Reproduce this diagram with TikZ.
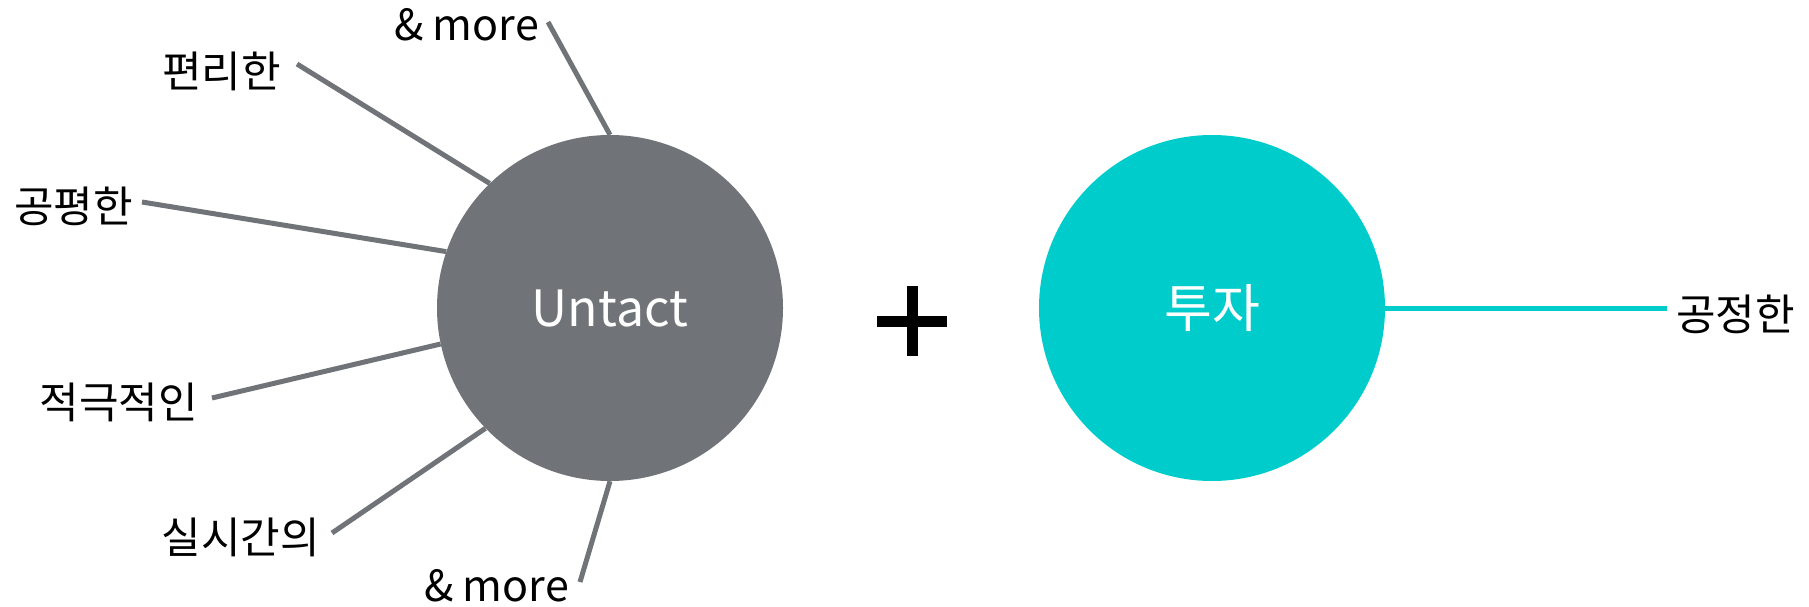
\documentclass[tikz,border=0pt]{standalone}
\usepackage{fontspec}
\setmainfont{Noto Sans CJK KR}
\definecolor{ugray}{HTML}{707377}
\definecolor{uteal}{HTML}{00CCCC}
\begin{document}
\begin{tikzpicture}[x=1pt,y=-1pt,
  lab/.style={font=\fontsize{43}{47}\selectfont, inner sep=0pt, text=black},
  bigtxt/.style={font=\fontsize{50}{54}\selectfont, text=white},
  bigcirc/.style={circle, minimum size=346pt, inner sep=0pt},
  spoke/.style={draw=ugray, line width=5pt},
  tealline/.style={draw=uteal, line width=5pt},
]
\useasboundingbox (0,0) rectangle (1809,607);
\node[bigcirc, fill=ugray, bigtxt] (untact) at (610,308) {Untact};
\node[bigcirc, fill=uteal, bigtxt, font=\fontsize{52}{56}\selectfont] (tuja) at (1212,308) {투자};

\node[lab, anchor=base east] (more1) at (539,41) {\& more};
\node[lab, anchor=east] (pyeon) at (281,71) {편리한};
\node[lab, anchor=east] (gong) at (133,206) {공평한};
\node[lab, anchor=east] (jeok) at (198,402) {적극적인};
\node[lab, anchor=east] (sil) at (320,537) {실시간의};
\node[lab, anchor=base east] (more2) at (569,601) {\& more};
\node[lab, anchor=west] (gongj) at (1676,314) {공정한};

\coordinate (e1) at (548,22);
\coordinate (e2) at (297,64);
\coordinate (e3) at (142,202);
\coordinate (e4) at (212,398);
\coordinate (e5) at (332,533);
\coordinate (e6) at (580,582);
\coordinate (e7) at (1667,308);

\draw[spoke] (e1) -- (untact.90);
\draw[spoke] (e2) -- (untact.134.5);
\draw[spoke] (e3) -- (untact.161.4);
\draw[spoke] (e4) -- (untact.192.4);
\draw[spoke] (e5) -- (untact.224.8);
\draw[spoke] (e6) -- (untact.270);
\draw[tealline] (tuja.east) -- (e7);

\coordinate (plus) at (912,321);
\draw[line width=11pt] ([xshift=-35pt]plus) -- ([xshift=35pt]plus);
\draw[line width=11pt] ([yshift=-35pt]plus) -- ([yshift=35pt]plus);
\end{tikzpicture}
\end{document}
